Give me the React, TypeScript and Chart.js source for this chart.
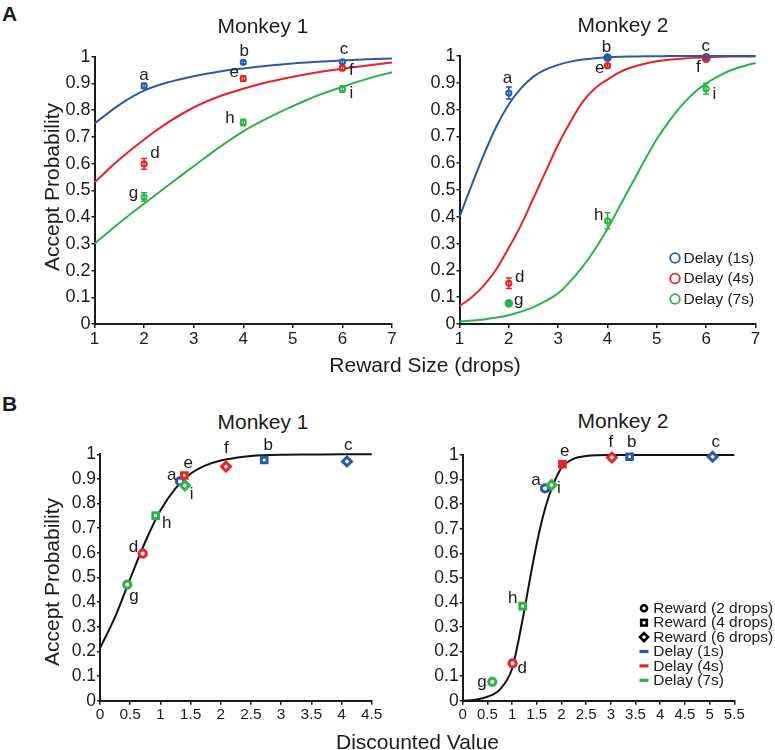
import React, { useEffect, useRef } from "react";
import { Chart, registerables } from "chart.js";
Chart.register(...registerables);

const FONT = "'Liberation Sans', Arial, Helvetica, sans-serif";
const INK = "#1b1b1b";
const BLUE = "#2b59a9";
const RED = "#e92228";
const GREEN = "#2db24a";

// ===== Panel A: accept probability vs reward size =====
const rewardSizes = [2, 4, 6];
const rewardGrid = [1, 1.5, 2, 2.5, 3, 3.5, 4, 4.5, 5, 5.5, 6, 6.5, 7];
const rewardGridFine = [1, 1.25, 1.5, 1.75, 2, 2.25, 2.5, 2.75, 3, 3.25, 3.5, 3.75, 4, 4.25, 4.5, 4.75, 5, 5.25, 5.5, 5.75, 6, 6.25, 6.5, 6.75, 7];
const letters1s = ["a", "b", "c"];
const letters4s = ["d", "e", "f"];
const letters7s = ["g", "h", "i"];

// Monkey 1
const m1Accept1s = [0.891, 0.979, 0.981];
const m1Accept4s = [0.599, 0.918, 0.957];
const m1Accept7s = [0.475, 0.754, 0.879];
const m1Err1s = [0.01, 0.006, 0.006];
const m1Err4s = [0.02, 0.01, 0.008];
const m1Err7s = [0.016, 0.012, 0.012];
const m1Fit1s = [0.75, 0.82, 0.873, 0.905, 0.927, 0.944, 0.956, 0.966, 0.975, 0.981, 0.986, 0.99, 0.993];
const m1Fit4s = [0.53, 0.615, 0.69, 0.756, 0.81, 0.85, 0.88, 0.905, 0.925, 0.942, 0.955, 0.967, 0.978];
const m1Fit7s = [0.3, 0.378, 0.45, 0.521, 0.59, 0.659, 0.721, 0.771, 0.815, 0.855, 0.887, 0.917, 0.942];

// Monkey 2
const m2Accept1s = [0.862, 0.994, 0.995];
const m2Accept4s = [0.152, 0.964, 0.99];
const m2Accept7s = [0.077, 0.385, 0.878];
const m2Err1s = [0.022, 0.004, 0.004];
const m2Err4s = [0.02, 0.006, 0.005];
const m2Err7s = [0.006, 0.03, 0.02];
const m2Fit1s = [0.4, 0.52, 0.635, 0.738, 0.82, 0.88, 0.923, 0.95, 0.967, 0.979, 0.987, 0.992, 0.995, 0.997, 0.998, 0.999, 0.999, 1, 1, 1, 1, 1, 1, 1, 1];
const m2Fit4s = [0.067, 0.1, 0.145, 0.205, 0.285, 0.37, 0.47, 0.57, 0.67, 0.755, 0.83, 0.88, 0.912, 0.94, 0.958, 0.971, 0.98, 0.986, 0.99, 0.993, 0.995, 0.997, 0.998, 0.998, 0.999];
const m2Fit7s = [0.009, 0.013, 0.017, 0.024, 0.033, 0.046, 0.063, 0.086, 0.115, 0.16, 0.215, 0.28, 0.355, 0.44, 0.525, 0.61, 0.69, 0.757, 0.815, 0.862, 0.898, 0.925, 0.947, 0.962, 0.974];

// ===== Panel B: accept probability vs discounted value =====
const bM1Value1s = [1.325, 2.72, 4.09];
const bM1Value4s = [0.707, 1.397, 2.087];
const bM1Value7s = [0.453, 0.922, 1.408];
const bM1Accept1s = [0.89, 0.977, 0.971];
const bM1Accept4s = [0.597, 0.914, 0.95];
const bM1Accept7s = [0.471, 0.751, 0.873];
const bM1Grid = [0, 0.25, 0.5, 0.75, 1, 1.25, 1.5, 1.75, 2, 2.25, 2.5, 3, 3.5, 4, 4.5];
const bM1Fit = [0.213, 0.34, 0.495, 0.645, 0.772, 0.862, 0.921, 0.955, 0.975, 0.986, 0.993, 0.998, 0.999, 1, 1];

const bM2Value1s = [1.667, 3.38, 5.06];
const bM2Value4s = [1.01, 2.02, 3.02];
const bM2Value7s = [0.6, 1.215, 1.8];
const bM2Accept1s = [0.864, 0.993, 0.993];
const bM2Accept4s = [0.152, 0.963, 0.99];
const bM2Accept7s = [0.077, 0.385, 0.878];
const bM2Grid = [0, 0.25, 0.5, 0.75, 1, 1.125, 1.25, 1.375, 1.5, 1.625, 1.75, 1.875, 2, 2.25, 2.5, 3, 4, 5, 5.5];
const bM2Fit = [0, 0.004, 0.016, 0.045, 0.13, 0.24, 0.37, 0.51, 0.64, 0.75, 0.835, 0.9, 0.948, 0.985, 0.996, 1, 1, 1, 1];

const delayLegend = ["Delay (1s)", "Delay (4s)", "Delay (7s)"];
const rewardLegend = ["Reward (2 drops)", "Reward (4 drops)", "Reward (6 drops)"];

// ===== Layout / styles =====
const YW = 60, XH = 34, PT = 20, PB = 4;
const AREA_A1 = { left: 94.5, top: 56.7, right: 392, bottom: 324, padRight: 14 };
const AREA_A2 = { left: 459.5, top: 56, right: 755.5, bottom: 324, padRight: 16 };
const AREA_B1 = { left: 100, top: 454.3, right: 371.7, bottom: 700.7, padRight: 16 };
const AREA_B2 = { left: 462.7, top: 455, right: 734.3, bottom: 700.7, padRight: 40.7 };

const OFF_A1 = [[[0, -11], [1, -10.7], [1.7, -12.3]], [[11, -10.3], [-9, -6], [9, 1.7]], [[-10.7, -3.3], [-13.3, -4], [9, 4.7]]];
const OFF_A2 = [[[-1.3, -15], [-1, -10.7], [-0.3, -10.7]], [[11, -6], [-7.7, 3], [-7.7, 8.3]], [[10, -3.3], [-8.7, -5.7], [8.3, 5.7]]];
const OFF_B1 = [[[-8.3, -5.7], [4, -15], [1.3, -16.3]], [[-9.3, -6], [4, -12], [0.3, -18.3]], [[6.7, 11.7], [11, 8], [6.7, 9]]];
const OFF_B2 = [[[-9, -7.7], [2, -14.3], [3.3, -14.3]], [[9.7, 5], [2.3, -12.3], [-1, -15]], [[-10.3, 0.7], [-10, -7.3], [7.3, 3.3]]];

const fmt = (v: number) => String(Math.round(v * 100) / 100);

function axis(min: number, max: number, step: number, fontSize: number, isX: boolean) {
  return {
    type: "linear",
    min,
    max,
    ticks: {
      stepSize: step,
      autoSkip: false,
      maxRotation: 0,
      minRotation: 0,
      color: INK,
      font: { family: FONT, size: fontSize },
      padding: 1,
      callback: (v: any) => fmt(Number(v)),
    },
    grid: { display: true, drawOnChartArea: false, drawTicks: true, tickLength: isX ? 4 : 3, color: INK, lineWidth: 1.5 },
    border: { display: true, color: INK, width: 2 },
    afterFit: (s: any) => {
      if (isX) s.height = XH;
      else s.width = YW;
    },
  };
}

const errorBarPlugin = {
  id: "errorBars",
  afterDatasetsDraw(chart: any) {
    const { ctx } = chart;
    const ys = chart.scales.y;
    chart.data.datasets.forEach((ds: any, i: number) => {
      if (!ds.errors) return;
      const meta = chart.getDatasetMeta(i);
      ctx.save();
      ctx.strokeStyle = ds.borderColor;
      ctx.lineWidth = 1.5;
      meta.data.forEach((el: any, j: number) => {
        const e = ds.errors[j];
        if (!e) return;
        const v = ds.data[j].y;
        const t = ys.getPixelForValue(v + e);
        const b = ys.getPixelForValue(v - e);
        ctx.beginPath();
        ctx.moveTo(el.x, t);
        ctx.lineTo(el.x, b);
        ctx.moveTo(el.x - 3, t);
        ctx.lineTo(el.x + 3, t);
        ctx.moveTo(el.x - 3, b);
        ctx.lineTo(el.x + 3, b);
        ctx.stroke();
      });
      ctx.restore();
    });
  },
};

const letterPlugin = {
  id: "pointLetters",
  afterDatasetsDraw(chart: any) {
    const { ctx } = chart;
    ctx.save();
    ctx.fillStyle = INK;
    ctx.font = `17px ${FONT}`;
    ctx.textAlign = "center";
    ctx.textBaseline = "middle";
    chart.data.datasets.forEach((ds: any, i: number) => {
      if (!ds.letters) return;
      const meta = chart.getDatasetMeta(i);
      meta.data.forEach((el: any, j: number) => {
        const [dx, dy] = ds.letterOffsets[j];
        ctx.fillText(ds.letters[j], el.x + dx, el.y + dy);
      });
    });
    ctx.restore();
  },
};

function drawMarker(ctx: any, kind: string, x: number, y: number, color: string) {
  ctx.save();
  ctx.strokeStyle = color;
  ctx.fillStyle = color;
  if (kind === "ring") {
    ctx.lineWidth = 1.8;
    ctx.beginPath();
    ctx.arc(x, y, 4.8, 0, Math.PI * 2);
    ctx.stroke();
  } else if (kind === "circle") {
    ctx.lineWidth = 2.6;
    ctx.beginPath();
    ctx.arc(x, y, 3, 0, Math.PI * 2);
    ctx.stroke();
  } else if (kind === "rect") {
    ctx.lineWidth = 2.6;
    ctx.strokeRect(x - 2.8, y - 2.8, 5.6, 5.6);
  } else if (kind === "diamond") {
    ctx.lineWidth = 2.6;
    ctx.beginPath();
    ctx.moveTo(x, y - 4);
    ctx.lineTo(x + 4, y);
    ctx.lineTo(x, y + 4);
    ctx.lineTo(x - 4, y);
    ctx.closePath();
    ctx.stroke();
  } else if (kind === "dash") {
    ctx.fillRect(x - 4.5, y - 1.6, 9, 3.2);
  }
  ctx.restore();
}

function legendPlugin(items: any[], dx: number, dy: number, rowH: number, textDx: number) {
  return {
    id: "customLegend",
    afterDraw(chart: any) {
      const { ctx, chartArea } = chart;
      ctx.save();
      ctx.font = `15.5px ${FONT}`;
      ctx.textAlign = "left";
      ctx.textBaseline = "middle";
      items.forEach((it, i) => {
        const x = chartArea.right + dx;
        const y = chartArea.bottom + dy + i * rowH;
        drawMarker(ctx, it.kind, x, y, it.color);
        ctx.fillStyle = INK;
        ctx.fillText(it.label, x + textDx, y + 0.5);
      });
      ctx.restore();
    },
  };
}

const toXY = (xs: number[], ys: number[]) => xs.map((x, i) => ({ x, y: ys[i] }));

function pointsA(xs: number[], ys: number[], errs: number[], letters: string[], offs: number[][], color: string, fills: boolean[]) {
  return {
    data: toXY(xs, ys),
    errors: errs,
    letters,
    letterOffsets: offs,
    borderColor: color,
    backgroundColor: fills.map((f) => (f ? color : "#ffffff")),
    pointRadius: fills.map((f) => (f ? 3.3 : 2.6)),
    pointBorderWidth: 2,
    pointStyle: "circle",
    showLine: false,
    clip: false,
  };
}

function pointsB(xs: number[], ys: number[], letters: string[], offs: number[][], color: string, fills: boolean[]) {
  return {
    data: toXY(xs, ys),
    letters,
    letterOffsets: offs,
    borderColor: color,
    backgroundColor: fills.map((f) => (f ? color : "#ffffff")),
    pointStyle: ["circle", "rect", "rectRot"],
    pointRadius: [3.6, 4, 4.4],
    pointBorderWidth: 3,
    showLine: false,
    clip: false,
  };
}

function curve(xs: number[], ys: number[], color: string) {
  return {
    data: toXY(xs, ys),
    borderColor: color,
    borderWidth: 2,
    pointRadius: 0,
    showLine: true,
    cubicInterpolationMode: "monotone",
    fill: false,
    clip: false,
  };
}

function baseConfig(pad: any, datasets: any[], xMin: number, xMax: number, xStep: number, xFont: number, yFont: number, extraPlugins: any[]) {
  return {
    type: "scatter",
    data: { datasets },
    options: {
      animation: false,
      responsive: false,
      events: [],
      layout: { padding: pad },
      plugins: { legend: { display: false }, tooltip: { enabled: false }, title: { display: false } },
      scales: {
        x: axis(xMin, xMax, xStep, xFont, true),
        y: axis(0, 1, 0.1, yFont, false),
      },
    },
    plugins: [errorBarPlugin, letterPlugin, ...extraPlugins],
  };
}

const buildA1 = (pad: any) =>
  baseConfig(
    pad,
    [
      pointsA(rewardSizes, m1Accept7s, m1Err7s, letters7s, OFF_A1[2], GREEN, [false, false, false]),
      pointsA(rewardSizes, m1Accept4s, m1Err4s, letters4s, OFF_A1[1], RED, [false, false, false]),
      pointsA(rewardSizes, m1Accept1s, m1Err1s, letters1s, OFF_A1[0], BLUE, [false, false, false]),
      curve(rewardGrid, m1Fit1s, BLUE),
      curve(rewardGrid, m1Fit4s, RED),
      curve(rewardGrid, m1Fit7s, GREEN),
    ],
    1, 7, 1, 17, 18, []
  );

const buildA2 = (pad: any) =>
  baseConfig(
    pad,
    [
      pointsA(rewardSizes, m2Accept7s, m2Err7s, letters7s, OFF_A2[2], GREEN, [true, false, false]),
      pointsA(rewardSizes, m2Accept4s, m2Err4s, letters4s, OFF_A2[1], RED, [false, false, true]),
      pointsA(rewardSizes, m2Accept1s, m2Err1s, letters1s, OFF_A2[0], BLUE, [false, true, true]),
      curve(rewardGridFine, m2Fit1s, BLUE),
      curve(rewardGridFine, m2Fit4s, RED),
      curve(rewardGridFine, m2Fit7s, GREEN),
    ],
    1, 7, 1, 17, 18,
    [
      legendPlugin(
        [
          { kind: "ring", color: BLUE, label: delayLegend[0] },
          { kind: "ring", color: RED, label: delayLegend[1] },
          { kind: "ring", color: GREEN, label: delayLegend[2] },
        ],
        -80.5, -66, 20.5, 8.5
      ),
    ]
  );

const buildB1 = (pad: any) =>
  baseConfig(
    pad,
    [
      pointsB(bM1Value7s, bM1Accept7s, letters7s, OFF_B1[2], GREEN, [false, false, false]),
      pointsB(bM1Value4s, bM1Accept4s, letters4s, OFF_B1[1], RED, [false, false, false]),
      pointsB(bM1Value1s, bM1Accept1s, letters1s, OFF_B1[0], BLUE, [false, false, false]),
      curve(bM1Grid, bM1Fit, "#111111"),
    ],
    0, 4.5, 0.5, 15.5, 17.5, []
  );

const buildB2 = (pad: any) =>
  baseConfig(
    pad,
    [
      pointsB(bM2Value7s, bM2Accept7s, letters7s, OFF_B2[2], GREEN, [false, false, false]),
      pointsB(bM2Value4s, bM2Accept4s, letters4s, OFF_B2[1], RED, [false, true, false]),
      pointsB(bM2Value1s, bM2Accept1s, letters1s, OFF_B2[0], BLUE, [false, false, false]),
      curve(bM2Grid, bM2Fit, "#111111"),
    ],
    0, 5.5, 0.5, 15, 17.5,
    [
      legendPlugin(
        [
          { kind: "circle", color: "#000", label: rewardLegend[0] },
          { kind: "rect", color: "#000", label: rewardLegend[1] },
          { kind: "diamond", color: "#000", label: rewardLegend[2] },
          { kind: "dash", color: BLUE, label: delayLegend[0] },
          { kind: "dash", color: RED, label: delayLegend[1] },
          { kind: "dash", color: GREEN, label: delayLegend[2] },
        ],
        -90.3, -92.4, 14.4, 9.3
      ),
    ]
  );

function ChartPanel({ area, build }: { area: any; build: (pad: any) => any }) {
  const ref = useRef<HTMLCanvasElement | null>(null);
  const cl = Math.floor(area.left - YW);
  const ct = Math.floor(area.top - PT);
  const cw = Math.ceil(area.right + area.padRight - cl);
  const ch = Math.ceil(area.bottom + XH + PB - ct);
  useEffect(() => {
    const pad = {
      left: area.left - YW - cl,
      top: area.top - ct,
      right: cl + cw - area.right,
      bottom: ct + ch - area.bottom - XH,
    };
    const chart = new Chart(ref.current as any, build(pad) as any);
    return () => chart.destroy();
  }, []);
  return (
    <canvas
      ref={ref}
      width={cw}
      height={ch}
      style={{ position: "absolute", left: cl, top: ct, width: cw, height: ch }}
    />
  );
}

function Label({ x, y, text, size = 21, bold = false, rotate = false }: any) {
  return (
    <div
      style={{
        position: "absolute",
        left: x,
        top: y,
        transform: `translate(-50%, -50%)${rotate ? " rotate(-90deg)" : ""}`,
        fontFamily: FONT,
        fontSize: size,
        fontWeight: bold ? 700 : 400,
        lineHeight: 1,
        whiteSpace: "nowrap",
        color: INK,
      }}
    >
      {text}
    </div>
  );
}

export default function App() {
  return (
    <div style={{ position: "fixed", left: 0, top: 0, width: 775, height: 750, background: "#ffffff", overflow: "hidden" }}>
      <ChartPanel area={AREA_A1} build={buildA1} />
      <ChartPanel area={AREA_A2} build={buildA2} />
      <ChartPanel area={AREA_B1} build={buildB1} />
      <ChartPanel area={AREA_B2} build={buildB2} />
      <Label x={9.5} y={13} text="A" bold />
      <Label x={9.5} y={402.5} text="B" bold />
      <Label x={263} y={24.5} text="Monkey 1" />
      <Label x={623} y={24} text="Monkey 2" />
      <Label x={263} y={420.5} text="Monkey 1" />
      <Label x={623} y={420} text="Monkey 2" />
      <Label x={425} y={364} text="Reward Size (drops)" />
      <Label x={417.5} y={741} text="Discounted Value" />
      <Label x={50.5} y={187} text="Accept Probability" rotate />
      <Label x={51} y={581.5} text="Accept Probability" rotate />
    </div>
  );
}
